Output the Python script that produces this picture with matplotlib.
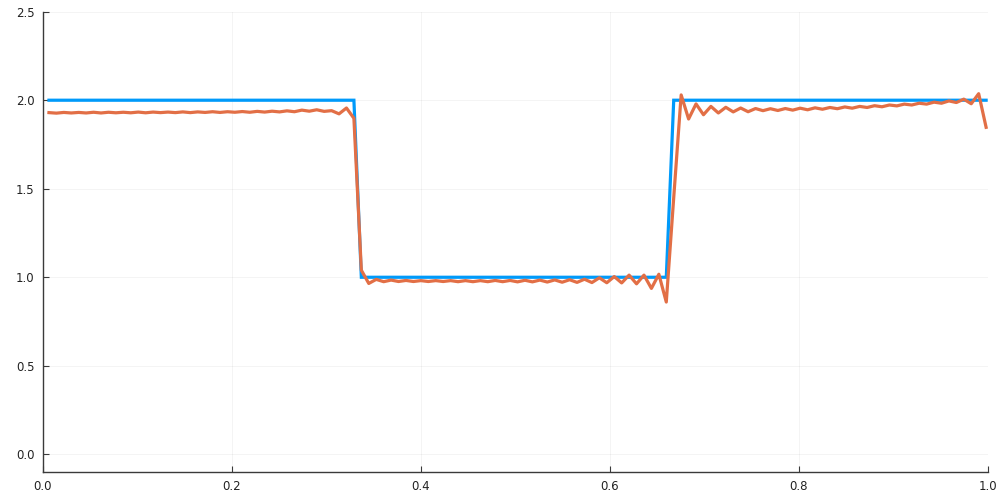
import numpy as np
import matplotlib
matplotlib.use("Agg")
import matplotlib.pyplot as plt

# sample positions (127 points across the domain)
x = np.linspace(0.0063, 0.998, 127)

# exact square wave
exact = [2.0] * 42 + [1.0] * 42 + [2.0] * 43

# numerical approximation
approx_left = [
    1.930, 1.927, 1.931, 1.928, 1.931, 1.928, 1.932, 1.928, 1.932, 1.929,
    1.932, 1.929, 1.933, 1.929, 1.933, 1.930, 1.933, 1.930, 1.934, 1.930,
    1.934, 1.931, 1.935, 1.931, 1.935, 1.932, 1.936, 1.932, 1.937, 1.933,
    1.938, 1.934, 1.940, 1.935, 1.944, 1.938, 1.946, 1.937, 1.941, 1.923,
    1.956, 1.898,
]
approx_mid = [
    1.040, 0.965, 0.988, 0.975, 0.984, 0.976, 0.982, 0.976, 0.981, 0.976,
    0.981, 0.976, 0.981, 0.975, 0.981, 0.975, 0.981, 0.975, 0.982, 0.975,
    0.982, 0.974, 0.983, 0.974, 0.984, 0.973, 0.985, 0.972, 0.986, 0.971,
    0.989, 0.970, 0.997, 0.969, 1.004, 0.968, 1.012, 0.963, 1.012, 0.937,
    1.017, 0.860,
]
approx_right = [
    1.450, 2.030, 1.894, 1.979, 1.918, 1.965, 1.928, 1.960, 1.934, 1.956,
    1.935, 1.953, 1.941, 1.952, 1.942, 1.953, 1.944, 1.955, 1.946, 1.957,
    1.949, 1.959, 1.952, 1.962, 1.955, 1.965, 1.959, 1.969, 1.963, 1.973,
    1.968, 1.978, 1.973, 1.983, 1.978, 1.989, 1.983, 1.996, 1.987, 2.006,
    1.980, 2.037, 1.847,
]
approx = approx_left + approx_mid + approx_right

xticks = [0.0, 0.2, 0.4, 0.6, 0.8, 1.0]
yticks = [0.0, 0.5, 1.0, 1.5, 2.0, 2.5]

fig = plt.figure(figsize=(10, 5), dpi=100)
ax = fig.add_axes([0.043, 0.056, 0.945, 0.9206])

ax.plot(x, exact, color="#009AFA", lw=2.3, solid_joinstyle="miter")
ax.plot(x, approx, color="#E26F46", lw=2.3)

ax.set_xlim(0, 1)
ax.set_ylim(-0.1, 2.5)
ax.set_xticks(xticks)
ax.set_yticks(yticks)
ax.set_xticklabels(["%.1f" % t for t in xticks])
ax.set_yticklabels(["%.1f" % t for t in yticks])

ax.grid(True, color="#000000", alpha=0.05, lw=0.6)
ax.set_axisbelow(True)
for s in ["top", "right"]:
    ax.spines[s].set_visible(False)
for s in ["left", "bottom"]:
    ax.spines[s].set_color("#3a3a3a")
    ax.spines[s].set_linewidth(1.0)
ax.tick_params(direction="in", length=4, width=0.8, color="#3a3a3a",
               labelsize=8.5, labelcolor="#222222", pad=6)

fig.savefig("out.png", dpi=100)
